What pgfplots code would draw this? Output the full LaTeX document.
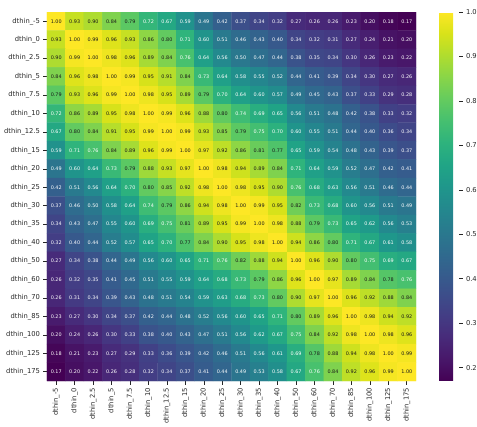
\documentclass[border=0pt]{standalone}
\usepackage{fontspec}
\setmainfont{DejaVu Sans}
\usepackage{pgfplots}
\usepackage{pgfplotstable}
\pgfplotsset{compat=1.18}

\newcommand\lab{\fontsize{6.8}{8}\selectfont}
\newcommand\ann{\fontsize{4.9}{6}\selectfont}

% correlation matrix: x = column, y = row, c = value
\pgfplotstableread[row sep=\\]{
x y c \\
0 0 1.00 \\ 1 0 0.93 \\ 2 0 0.90 \\ 3 0 0.84 \\ 4 0 0.79 \\ 5 0 0.72 \\ 6 0 0.67 \\ 7 0 0.59 \\ 8 0 0.49 \\ 9 0 0.42 \\ 10 0 0.37 \\ 11 0 0.34 \\ 12 0 0.32 \\ 13 0 0.27 \\ 14 0 0.26 \\ 15 0 0.26 \\ 16 0 0.23 \\ 17 0 0.20 \\ 18 0 0.18 \\ 19 0 0.17 \\
0 1 0.93 \\ 1 1 1.00 \\ 2 1 0.99 \\ 3 1 0.96 \\ 4 1 0.93 \\ 5 1 0.86 \\ 6 1 0.80 \\ 7 1 0.71 \\ 8 1 0.60 \\ 9 1 0.51 \\ 10 1 0.46 \\ 11 1 0.43 \\ 12 1 0.40 \\ 13 1 0.34 \\ 14 1 0.32 \\ 15 1 0.31 \\ 16 1 0.27 \\ 17 1 0.24 \\ 18 1 0.21 \\ 19 1 0.20 \\
0 2 0.90 \\ 1 2 0.99 \\ 2 2 1.00 \\ 3 2 0.98 \\ 4 2 0.96 \\ 5 2 0.89 \\ 6 2 0.84 \\ 7 2 0.76 \\ 8 2 0.64 \\ 9 2 0.56 \\ 10 2 0.50 \\ 11 2 0.47 \\ 12 2 0.44 \\ 13 2 0.38 \\ 14 2 0.35 \\ 15 2 0.34 \\ 16 2 0.30 \\ 17 2 0.26 \\ 18 2 0.23 \\ 19 2 0.22 \\
0 3 0.84 \\ 1 3 0.96 \\ 2 3 0.98 \\ 3 3 1.00 \\ 4 3 0.99 \\ 5 3 0.95 \\ 6 3 0.91 \\ 7 3 0.84 \\ 8 3 0.73 \\ 9 3 0.64 \\ 10 3 0.58 \\ 11 3 0.55 \\ 12 3 0.52 \\ 13 3 0.44 \\ 14 3 0.41 \\ 15 3 0.39 \\ 16 3 0.34 \\ 17 3 0.30 \\ 18 3 0.27 \\ 19 3 0.26 \\
0 4 0.79 \\ 1 4 0.93 \\ 2 4 0.96 \\ 3 4 0.99 \\ 4 4 1.00 \\ 5 4 0.98 \\ 6 4 0.95 \\ 7 4 0.89 \\ 8 4 0.79 \\ 9 4 0.70 \\ 10 4 0.64 \\ 11 4 0.60 \\ 12 4 0.57 \\ 13 4 0.49 \\ 14 4 0.45 \\ 15 4 0.43 \\ 16 4 0.37 \\ 17 4 0.33 \\ 18 4 0.29 \\ 19 4 0.28 \\
0 5 0.72 \\ 1 5 0.86 \\ 2 5 0.89 \\ 3 5 0.95 \\ 4 5 0.98 \\ 5 5 1.00 \\ 6 5 0.99 \\ 7 5 0.96 \\ 8 5 0.88 \\ 9 5 0.80 \\ 10 5 0.74 \\ 11 5 0.69 \\ 12 5 0.65 \\ 13 5 0.56 \\ 14 5 0.51 \\ 15 5 0.48 \\ 16 5 0.42 \\ 17 5 0.38 \\ 18 5 0.33 \\ 19 5 0.32 \\
0 6 0.67 \\ 1 6 0.80 \\ 2 6 0.84 \\ 3 6 0.91 \\ 4 6 0.95 \\ 5 6 0.99 \\ 6 6 1.00 \\ 7 6 0.99 \\ 8 6 0.93 \\ 9 6 0.85 \\ 10 6 0.79 \\ 11 6 0.75 \\ 12 6 0.70 \\ 13 6 0.60 \\ 14 6 0.55 \\ 15 6 0.51 \\ 16 6 0.44 \\ 17 6 0.40 \\ 18 6 0.36 \\ 19 6 0.34 \\
0 7 0.59 \\ 1 7 0.71 \\ 2 7 0.76 \\ 3 7 0.84 \\ 4 7 0.89 \\ 5 7 0.96 \\ 6 7 0.99 \\ 7 7 1.00 \\ 8 7 0.97 \\ 9 7 0.92 \\ 10 7 0.86 \\ 11 7 0.81 \\ 12 7 0.77 \\ 13 7 0.65 \\ 14 7 0.59 \\ 15 7 0.54 \\ 16 7 0.48 \\ 17 7 0.43 \\ 18 7 0.39 \\ 19 7 0.37 \\
0 8 0.49 \\ 1 8 0.60 \\ 2 8 0.64 \\ 3 8 0.73 \\ 4 8 0.79 \\ 5 8 0.88 \\ 6 8 0.93 \\ 7 8 0.97 \\ 8 8 1.00 \\ 9 8 0.98 \\ 10 8 0.94 \\ 11 8 0.89 \\ 12 8 0.84 \\ 13 8 0.71 \\ 14 8 0.64 \\ 15 8 0.59 \\ 16 8 0.52 \\ 17 8 0.47 \\ 18 8 0.42 \\ 19 8 0.41 \\
0 9 0.42 \\ 1 9 0.51 \\ 2 9 0.56 \\ 3 9 0.64 \\ 4 9 0.70 \\ 5 9 0.80 \\ 6 9 0.85 \\ 7 9 0.92 \\ 8 9 0.98 \\ 9 9 1.00 \\ 10 9 0.98 \\ 11 9 0.95 \\ 12 9 0.90 \\ 13 9 0.76 \\ 14 9 0.68 \\ 15 9 0.63 \\ 16 9 0.56 \\ 17 9 0.51 \\ 18 9 0.46 \\ 19 9 0.44 \\
0 10 0.37 \\ 1 10 0.46 \\ 2 10 0.50 \\ 3 10 0.58 \\ 4 10 0.64 \\ 5 10 0.74 \\ 6 10 0.79 \\ 7 10 0.86 \\ 8 10 0.94 \\ 9 10 0.98 \\ 10 10 1.00 \\ 11 10 0.99 \\ 12 10 0.95 \\ 13 10 0.82 \\ 14 10 0.73 \\ 15 10 0.68 \\ 16 10 0.60 \\ 17 10 0.56 \\ 18 10 0.51 \\ 19 10 0.49 \\
0 11 0.34 \\ 1 11 0.43 \\ 2 11 0.47 \\ 3 11 0.55 \\ 4 11 0.60 \\ 5 11 0.69 \\ 6 11 0.75 \\ 7 11 0.81 \\ 8 11 0.89 \\ 9 11 0.95 \\ 10 11 0.99 \\ 11 11 1.00 \\ 12 11 0.98 \\ 13 11 0.88 \\ 14 11 0.79 \\ 15 11 0.73 \\ 16 11 0.65 \\ 17 11 0.62 \\ 18 11 0.56 \\ 19 11 0.53 \\
0 12 0.32 \\ 1 12 0.40 \\ 2 12 0.44 \\ 3 12 0.52 \\ 4 12 0.57 \\ 5 12 0.65 \\ 6 12 0.70 \\ 7 12 0.77 \\ 8 12 0.84 \\ 9 12 0.90 \\ 10 12 0.95 \\ 11 12 0.98 \\ 12 12 1.00 \\ 13 12 0.94 \\ 14 12 0.86 \\ 15 12 0.80 \\ 16 12 0.71 \\ 17 12 0.67 \\ 18 12 0.61 \\ 19 12 0.58 \\
0 13 0.27 \\ 1 13 0.34 \\ 2 13 0.38 \\ 3 13 0.44 \\ 4 13 0.49 \\ 5 13 0.56 \\ 6 13 0.60 \\ 7 13 0.65 \\ 8 13 0.71 \\ 9 13 0.76 \\ 10 13 0.82 \\ 11 13 0.88 \\ 12 13 0.94 \\ 13 13 1.00 \\ 14 13 0.96 \\ 15 13 0.90 \\ 16 13 0.80 \\ 17 13 0.75 \\ 18 13 0.69 \\ 19 13 0.67 \\
0 14 0.26 \\ 1 14 0.32 \\ 2 14 0.35 \\ 3 14 0.41 \\ 4 14 0.45 \\ 5 14 0.51 \\ 6 14 0.55 \\ 7 14 0.59 \\ 8 14 0.64 \\ 9 14 0.68 \\ 10 14 0.73 \\ 11 14 0.79 \\ 12 14 0.86 \\ 13 14 0.96 \\ 14 14 1.00 \\ 15 14 0.97 \\ 16 14 0.89 \\ 17 14 0.84 \\ 18 14 0.78 \\ 19 14 0.76 \\
0 15 0.26 \\ 1 15 0.31 \\ 2 15 0.34 \\ 3 15 0.39 \\ 4 15 0.43 \\ 5 15 0.48 \\ 6 15 0.51 \\ 7 15 0.54 \\ 8 15 0.59 \\ 9 15 0.63 \\ 10 15 0.68 \\ 11 15 0.73 \\ 12 15 0.80 \\ 13 15 0.90 \\ 14 15 0.97 \\ 15 15 1.00 \\ 16 15 0.96 \\ 17 15 0.92 \\ 18 15 0.88 \\ 19 15 0.84 \\
0 16 0.23 \\ 1 16 0.27 \\ 2 16 0.30 \\ 3 16 0.34 \\ 4 16 0.37 \\ 5 16 0.42 \\ 6 16 0.44 \\ 7 16 0.48 \\ 8 16 0.52 \\ 9 16 0.56 \\ 10 16 0.60 \\ 11 16 0.65 \\ 12 16 0.71 \\ 13 16 0.80 \\ 14 16 0.89 \\ 15 16 0.96 \\ 16 16 1.00 \\ 17 16 0.98 \\ 18 16 0.94 \\ 19 16 0.92 \\
0 17 0.20 \\ 1 17 0.24 \\ 2 17 0.26 \\ 3 17 0.30 \\ 4 17 0.33 \\ 5 17 0.38 \\ 6 17 0.40 \\ 7 17 0.43 \\ 8 17 0.47 \\ 9 17 0.51 \\ 10 17 0.56 \\ 11 17 0.62 \\ 12 17 0.67 \\ 13 17 0.75 \\ 14 17 0.84 \\ 15 17 0.92 \\ 16 17 0.98 \\ 17 17 1.00 \\ 18 17 0.98 \\ 19 17 0.96 \\
0 18 0.18 \\ 1 18 0.21 \\ 2 18 0.23 \\ 3 18 0.27 \\ 4 18 0.29 \\ 5 18 0.33 \\ 6 18 0.36 \\ 7 18 0.39 \\ 8 18 0.42 \\ 9 18 0.46 \\ 10 18 0.51 \\ 11 18 0.56 \\ 12 18 0.61 \\ 13 18 0.69 \\ 14 18 0.78 \\ 15 18 0.88 \\ 16 18 0.94 \\ 17 18 0.98 \\ 18 18 1.00 \\ 19 18 0.99 \\
0 19 0.17 \\ 1 19 0.20 \\ 2 19 0.22 \\ 3 19 0.26 \\ 4 19 0.28 \\ 5 19 0.32 \\ 6 19 0.34 \\ 7 19 0.37 \\ 8 19 0.41 \\ 9 19 0.44 \\ 10 19 0.49 \\ 11 19 0.53 \\ 12 19 0.58 \\ 13 19 0.67 \\ 14 19 0.76 \\ 15 19 0.84 \\ 16 19 0.92 \\ 17 19 0.96 \\ 18 19 0.99 \\ 19 19 1.00 \\
}\corr

\begin{document}
\begin{tikzpicture}
\path[use as bounding box] (-47bp,-46bp) rectangle (430bp,381bp);
\begin{axis}[
    at={(0,0)}, anchor=south west,
    scale only axis,
    width=369bp, height=369bp,
    xmin=-0.5, xmax=19.5,
    ymin=-0.5, ymax=19.5,
    y dir=reverse,
    enlargelimits=false,
    axis line style={draw=none},
    xtick={0,...,19}, ytick={0,...,19},
    xticklabels={dthin\_-5,dthin\_0,dthin\_2.5,dthin\_5,dthin\_7.5,dthin\_10,dthin\_12.5,dthin\_15,dthin\_20,dthin\_25,dthin\_30,dthin\_35,dthin\_40,dthin\_50,dthin\_60,dthin\_70,dthin\_85,dthin\_100,dthin\_125,dthin\_175},
    yticklabels={dthin\_-5,dthin\_0,dthin\_2.5,dthin\_5,dthin\_7.5,dthin\_10,dthin\_12.5,dthin\_15,dthin\_20,dthin\_25,dthin\_30,dthin\_35,dthin\_40,dthin\_50,dthin\_60,dthin\_70,dthin\_85,dthin\_100,dthin\_125,dthin\_175},
    xtick pos=left, ytick pos=left,
    tick align=outside,
    major tick length=3.5bp,
    tick style={black!85, line width=0.6bp},
    tick label style={font=\lab, text=black!85},
    xticklabel style={rotate=90, anchor=east},
    colormap/viridis,
    point meta min=0.17, point meta max=1.0,
    colorbar,
    colorbar shift/.style={},
    colorbar style={
        at={(parent axis.north east)}, anchor=north west, xshift=23bp,
        scale only axis,
        width=20bp,
        axis line style={draw=none},
        ytick={0.2,0.3,0.4,0.5,0.6,0.7,0.8,0.9,1.0},
        ytick pos=right,
        tick align=outside,
        major tick length=3.5bp,
        tick style={black!85, line width=0.6bp},
        yticklabel style={font=\lab, text=black!85,
            /pgf/number format/.cd, fixed, fixed zerofill, precision=1, assume math mode=true},
    },
]
\addplot[matrix plot*, mesh/cols=20, point meta=explicit] table[x=x, y=y, meta=c] {\corr};
% labels on dark cells in white
\addplot[draw=none, mark=none, point meta=explicit,
    restrict expr to domain={\thisrow{c}}{0:0.765},
    nodes near coords={\pgfmathprintnumber[fixed, fixed zerofill, precision=2, assume math mode=true]{\pgfplotspointmeta}},
    nodes near coords align=center,
    every node near coord/.append style={font=\ann, text=white, anchor=center, inner sep=0pt},
] table[x=x, y=y, meta=c] {\corr};
% labels on light cells in black
\addplot[draw=none, mark=none, point meta=explicit,
    restrict expr to domain={\thisrow{c}}{0.765:1.5},
    nodes near coords={\pgfmathprintnumber[fixed, fixed zerofill, precision=2, assume math mode=true]{\pgfplotspointmeta}},
    nodes near coords align=center,
    every node near coord/.append style={font=\ann, text=black!90, anchor=center, inner sep=0pt},
] table[x=x, y=y, meta=c] {\corr};
\end{axis}
\end{tikzpicture}
\end{document}
